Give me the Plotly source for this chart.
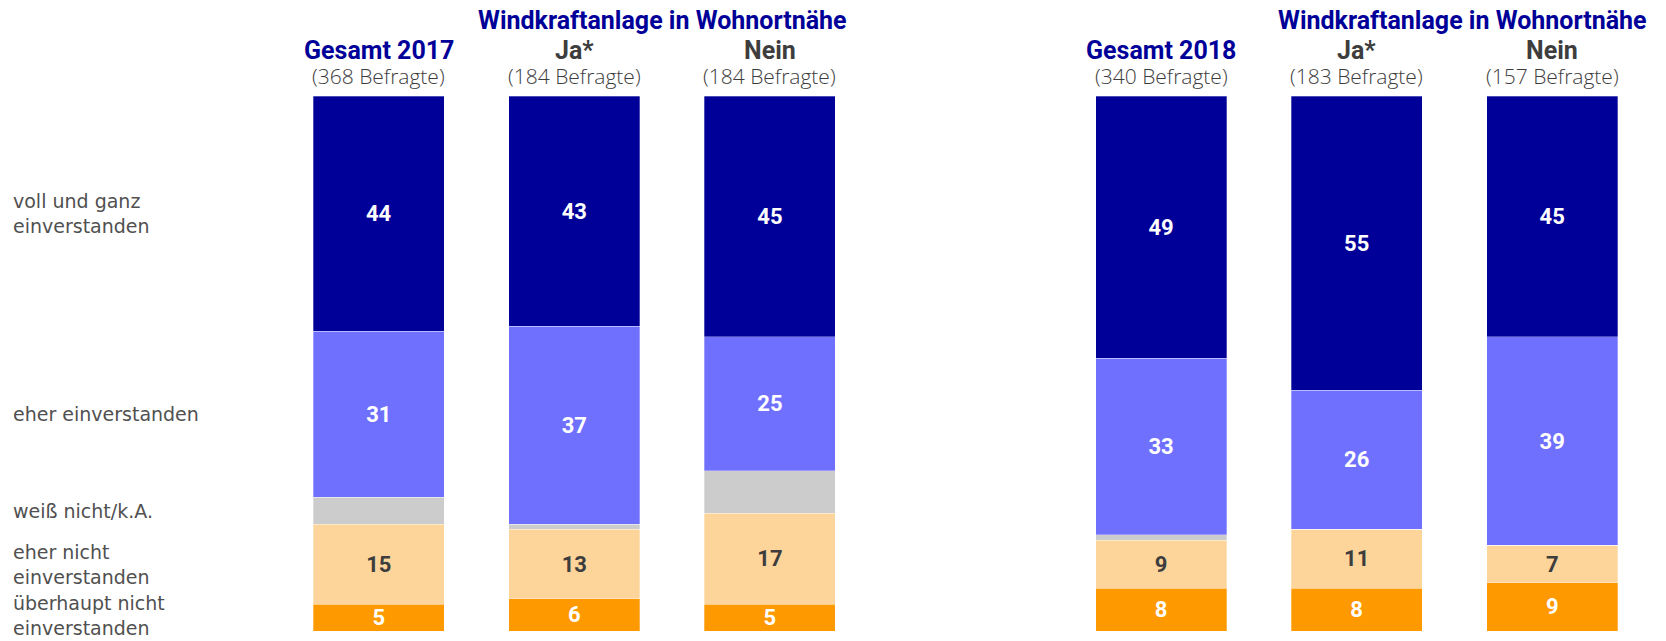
import plotly.graph_objects as go

# Balken: 2017 (Gesamt, Ja*, Nein), Lücke, 2018 (Gesamt, Ja*, Nein)
bar_pos = [0, 1, 2, 4, 5, 6]
bar_names = ["Gesamt 2017", "Ja*", "Nein", "Gesamt 2018", "Ja*", "Nein"]
bar_sub = ["(368 Befragte)", "(184 Befragte)", "(184 Befragte)",
           "(340 Befragte)", "(183 Befragte)", "(157 Befragte)"]
header_text = "Windkraftanlage in Wohnortnähe"

# Werte in Prozent, von unten nach oben gestapelt
ueberhaupt_nicht = [5, 6, 5, 8, 8, 9]
eher_nicht = [15, 13, 17, 9, 11, 7]
weiss_nicht = [5, 1, 8, 1, 0, 0]
eher = [31, 37, 25, 33, 26, 39]
voll = [44, 43, 45, 49, 55, 45]

categories = ["überhaupt nicht<br>einverstanden", "eher nicht<br>einverstanden",
              "weiß nicht/k.A.", "eher einverstanden",
              "voll und ganz<br>einverstanden"]

DARK = "#3d3d3d"
BLUE = "#000099"
FONT = "Roboto, 'DejaVu Sans', sans-serif"
LFONT = "'Open Sans', Roboto, sans-serif"
CATFONT = "'DejaVu Sans', 'Open Sans', sans-serif"

series = [
    (ueberhaupt_nicht, "#ff9900", "white", True),
    (eher_nicht, "#fdd59b", DARK, True),
    (weiss_nicht, "#cccccc", DARK, False),
    (eher, "#7070ff", "white", True),
    (voll, "#000099", "white", True),
]

fig = go.Figure()
for (vals, color, tcolor, show), name in zip(series, categories):
    fig.add_trace(go.Bar(
        x=bar_pos, y=vals, name=name.replace("<br>", " "), width=0.67,
        marker=dict(color=color, line=dict(color="rgba(255,255,255,0.6)", width=0.5)),
        text=[str(v) if (show and v > 0) else "" for v in vals],
        textposition="inside", insidetextanchor="middle", textangle=0,
        textfont=dict(color=tcolor, size=22, family=FONT, weight="bold"),
        showlegend=False, hoverinfo="skip",
    ))

# Kategorie-Beschriftungen links, auf Höhe der Segmente des ersten Balkens
cum = 0
for i, (vals, name) in enumerate(zip([ueberhaupt_nicht, eher_nicht, weiss_nicht, eher, voll], categories)):
    mid = cum + vals[0] / 2
    cum += vals[0]
    if i == 0:
        mid += 0.4  # unterste Beschriftung nicht abschneiden
    fig.add_annotation(
        xref="paper", yref="y", x=-0.197, y=mid, text=name, showarrow=False,
        xanchor="left", yanchor="middle", align="left",
        font=dict(size=19, color="#505050", family=CATFONT),
    )

# Spaltenköpfe (paper-Koordinaten: Plotfläche 535 px hoch, Oberkante bei 96 px)
def py(px_from_top):
    return 1 + (96 - px_from_top) / 535

for pos, nm, sub in zip(bar_pos, bar_names, bar_sub):
    col = BLUE if nm.startswith("Gesamt") else DARK
    fig.add_annotation(x=pos, xref="x", yref="paper", y=py(50),
                       text=nm, showarrow=False, yanchor="middle",
                       font=dict(size=25, color=col, family=FONT, weight="bold"))
    fig.add_annotation(x=pos, xref="x", yref="paper", y=py(76),
                       text=sub, showarrow=False, yanchor="middle",
                       font=dict(size=21, color=DARK, family=LFONT, weight=300))

for hx in [1.45, 5.54]:
    fig.add_annotation(x=hx, xref="x", yref="paper", y=py(20),
                       text=header_text, showarrow=False, yanchor="middle",
                       font=dict(size=25, color=BLUE, family=FONT, weight="bold"))

fig.update_layout(
    barmode="stack",
    width=1666, height=641,
    margin=dict(l=281, r=16, t=96, b=10),
    paper_bgcolor="white", plot_bgcolor="white",
    uniformtext=dict(minsize=22, mode="show"),
    xaxis=dict(range=[-0.5, 6.5], visible=False),
    yaxis=dict(range=[0, 100], visible=False),
    font=dict(family=FONT),
)

# Seitenrand des Browsers entfernen, damit die Figur das Fenster genau füllt
fig.write_html("out.html", config={"displayModeBar": False},
               post_script="document.body.style.margin='0';")
